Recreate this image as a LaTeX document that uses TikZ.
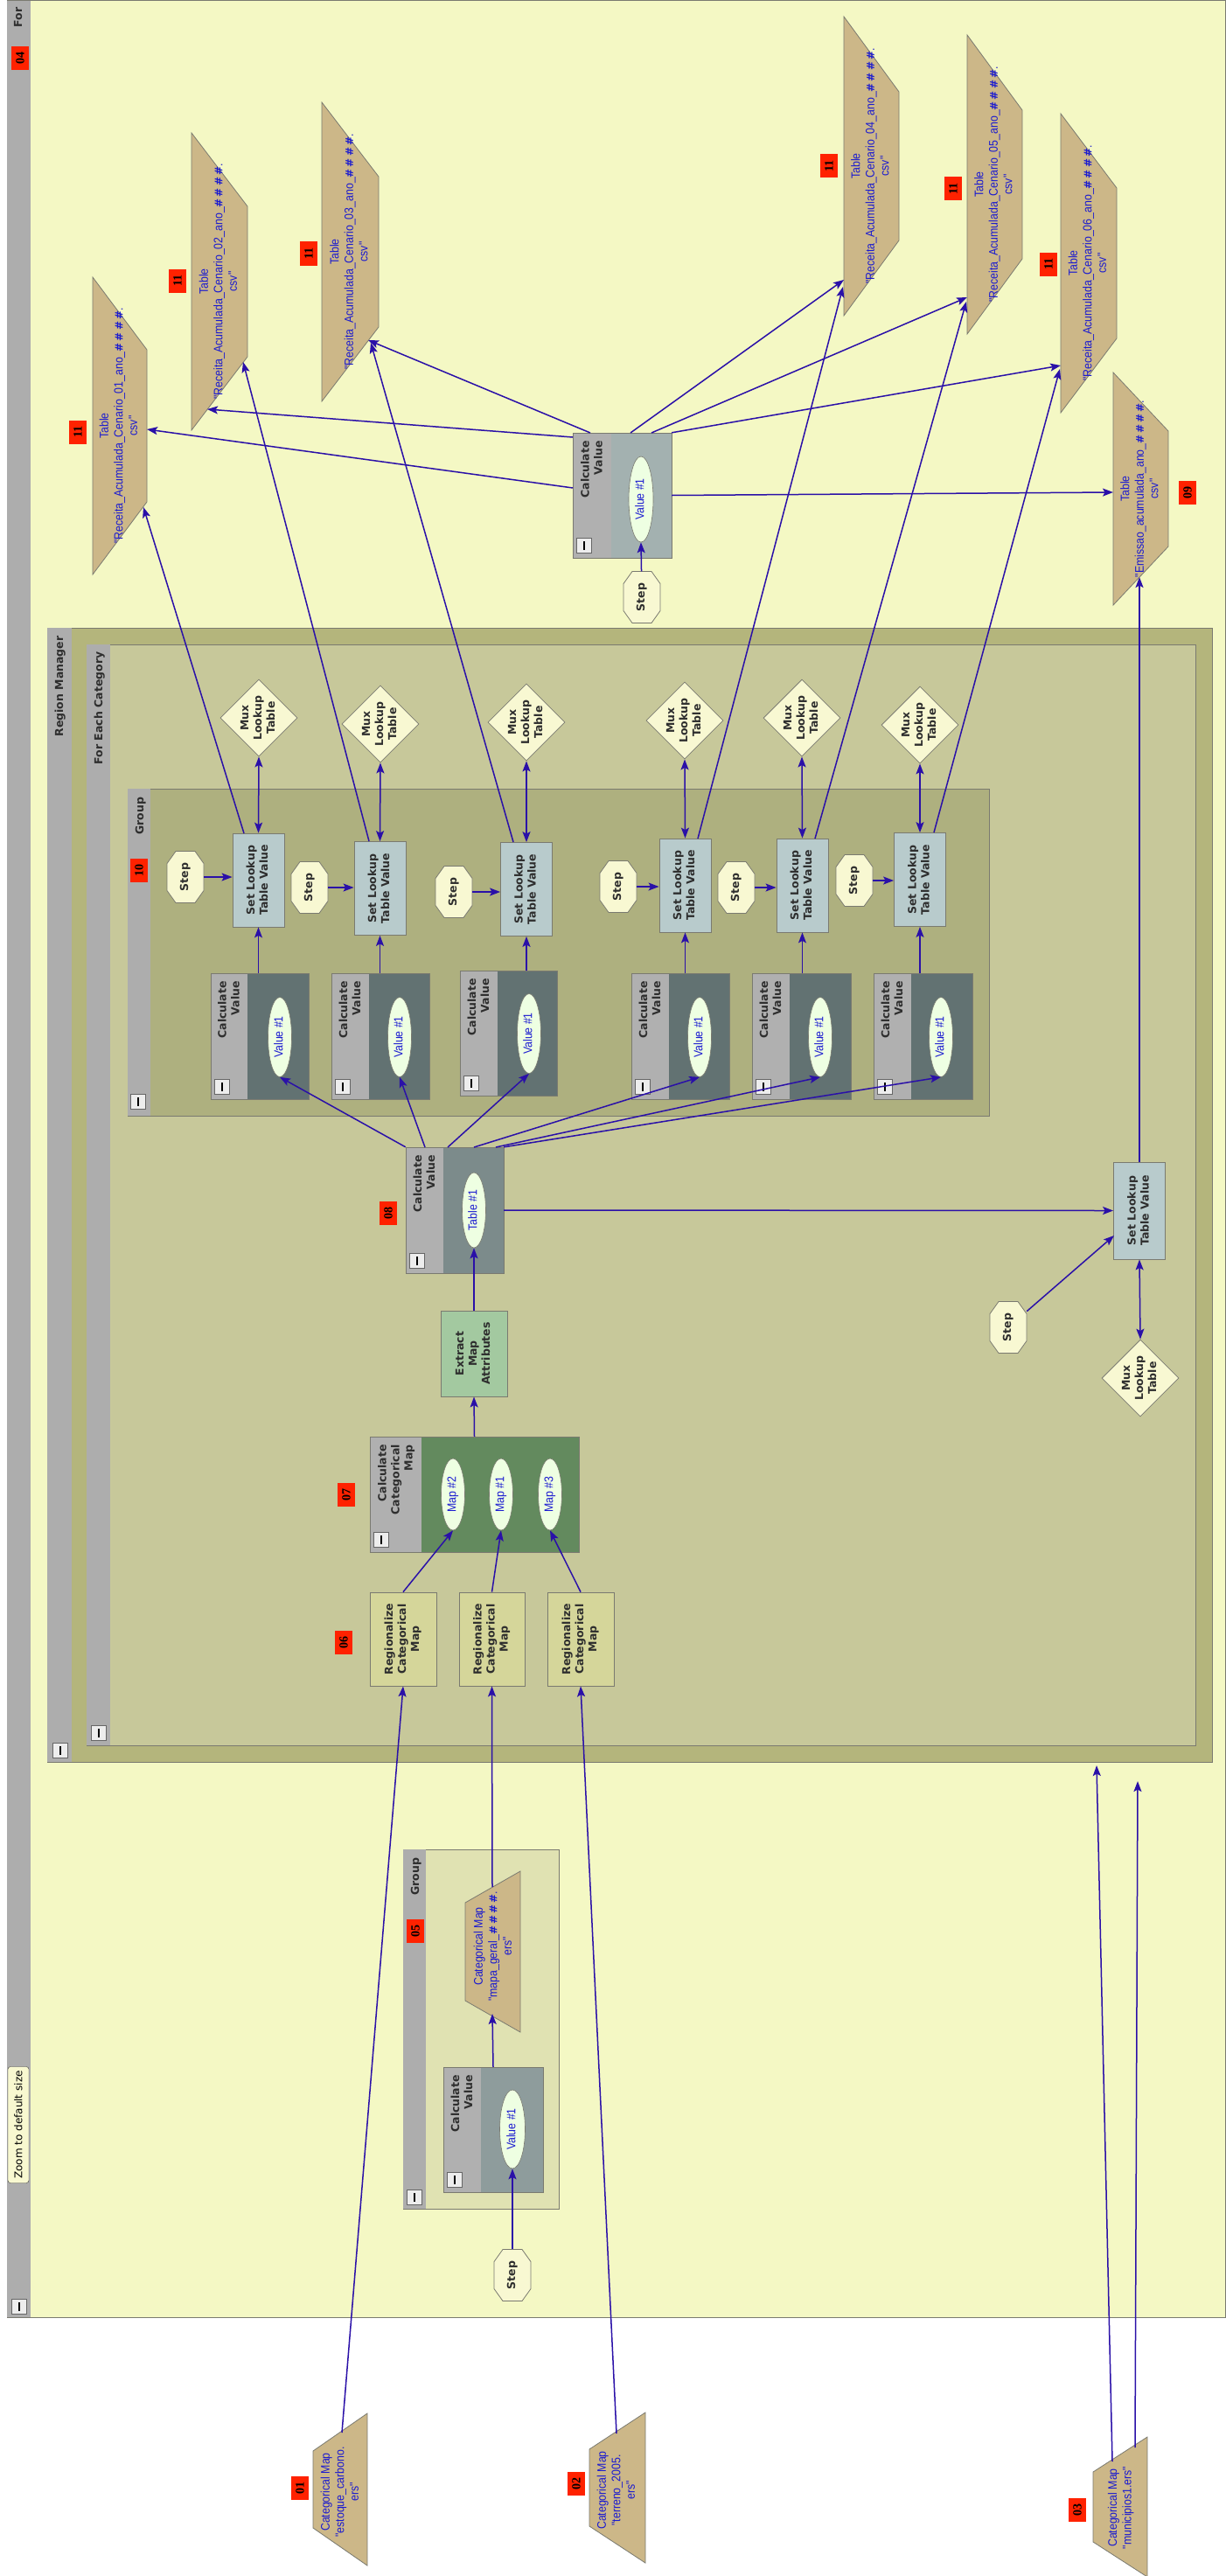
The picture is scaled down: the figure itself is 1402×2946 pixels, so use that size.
\documentclass[tikz,border=0pt]{standalone}
\usepackage{fontspec}
\setmainfont{DejaVu Sans}
\newfontfamily\bluefont[FakeStretch=0.88]{Liberation Sans}
\newfontfamily\hashfont{DejaVu Sans}
\newfontfamily\redfont{Liberation Serif}
\usetikzlibrary{shapes.geometric,arrows.meta}
\definecolor{bgy}{HTML}{F4F8C4}
\definecolor{barc}{HTML}{ADADAD}
\definecolor{rmc}{HTML}{B4B57C}
\definecolor{fecc}{HTML}{C7C89A}
\definecolor{grpc}{HTML}{AEB07F}
\definecolor{g5c}{HTML}{E0E2B2}
\definecolor{outc}{HTML}{7A7A70}
\definecolor{trapc}{HTML}{CCB788}
\definecolor{sltvc}{HTML}{B8CBCC}
\definecolor{creamc}{HTML}{F8F8D2}
\definecolor{ellc}{HTML}{EEFFE2}
\definecolor{exc}{HTML}{A3C9A0}
\definecolor{ccmc}{HTML}{638A5E}
\definecolor{regc}{HTML}{D5D69A}
\definecolor{cvtc}{HTML}{A3B1B0}
\definecolor{cgc}{HTML}{627272}
\definecolor{cv8c}{HTML}{7C8B8B}
\definecolor{cg5c}{HTML}{8E9C9C}
\definecolor{hdrc}{HTML}{B0B0B0}
\definecolor{arrc}{HTML}{2A10A8}
\definecolor{bluec}{HTML}{1A1AD0}
\definecolor{redc}{HTML}{FF2200}
\definecolor{txtc}{HTML}{2E2E2E}
\definecolor{btnc}{HTML}{EDEDED}
\definecolor{btnb}{HTML}{666666}
\definecolor{tipc}{HTML}{F8F8D0}
\newcommand\rt[1]{\rotatebox{90}{\begin{tabular}{@{}c@{}}#1\end{tabular}}}
\newcommand\rtr[1]{\rotatebox{90}{\begin{tabular}{@{}r@{}}#1\end{tabular}}}
\newcommand\hh{{\hashfont\bfseries\fontsize{12}{16.5}\selectfont\#\,\#\,\#\,\#}}
\tikzset{
  lbl/.style={font=\fontsize{12.5}{15}\selectfont\bfseries, text=txtc, inner sep=0pt},
  bluetxt/.style={font=\bluefont\fontsize{14}{16.5}\selectfont, text=bluec, inner sep=0pt},
  conn/.style={draw=arrc, line width=1.5pt, -{Stealth[length=12pt,width=9pt,inset=2.5pt]}},
  dconn/.style={draw=arrc, line width=1.5pt, {Stealth[length=12pt,width=9pt,inset=2.5pt]}-{Stealth[length=12pt,width=9pt,inset=2.5pt]}},
  sltv/.style={lbl, draw=outc, line width=0.8pt, fill=sltvc, minimum width=59pt, minimum height=107pt},
  mux/.style={lbl, diamond, draw=outc, line width=0.8pt, fill=creamc, minimum width=88pt, minimum height=88pt, inner sep=-4pt},
  regbox/.style={lbl, draw=outc, line width=0.8pt, fill=regc, minimum width=76pt, minimum height=107pt},
  ell/.style={bluetxt, ellipse, draw=outc, line width=0.6pt, fill=ellc},
  redlbl/.style={fill=redc, inner sep=0pt, minimum width=20pt, minimum height=27pt, font=\redfont\bfseries\fontsize{14}{14}\selectfont, text=black},
  btnbox/.style={draw=btnb, fill=btnc, line width=0.8pt, minimum width=17pt, minimum height=17pt, inner sep=0pt},
}
\newcommand\btn[3]{%
  \node[btnbox] (#1) at ({#2},{#3}) {};
  \draw[line width=2.2pt, black] ([yshift=5pt]#1.center) -- ([yshift=-5pt]#1.center);}
\newcommand\calcbox[8]{%
  \node[draw=outc, fill=#7, inner sep=0pt, minimum width={#4-#2}, minimum height={#5-#3}] (#1) at ({(#2+#4)/2},{(#3+#5)/2}) {};
  \fill[hdrc] (#2,#3) rectangle (#6,#5);
  \draw[outc, line width=0.8pt] (#2,#3) rectangle (#4,#5);
  \node[lbl, anchor=north] (#1-h) at ({(#2+#6)/2+1},{#3+9}) {\rtr{#8}};
  \btn{#1-m}{#2+13}{#5-14}}
% trapezoid: name, x of long edge, x of short edge, centre y, half long, half short
\newcommand\trap[6]{%
  \draw[outc, line width=0.8pt, fill=trapc] (#2,{#4-#5}) -- (#3,{#4-#6}) -- (#3,{#4+#6}) -- (#2,{#4+#5}) -- cycle;
  \coordinate (#1) at ({(#2+#3)/2},#4);}
\newcommand\stepnode[3]{%
  \draw[outc, line width=0.8pt, fill=creamc] ({#2-21},{#3-15.5}) -- ({#2-11},{#3-29.5}) -- ({#2+11},{#3-29.5}) -- ({#2+21},{#3-15.5}) -- ({#2+21},{#3+15.5}) -- ({#2+11},{#3+29.5}) -- ({#2-11},{#3+29.5}) -- ({#2-21},{#3+15.5}) -- cycle;
  \node[lbl, minimum width=42pt, minimum height=59pt] (#1) at (#2,#3) {\rt{Step}};}
\begin{document}
\begin{tikzpicture}[x=1pt,y=-1pt]
\useasboundingbox (0,0) rectangle (1402,2946);
\fill[white] (0,0) rectangle (1402,2946);
% ---------- For container
\draw[outc, line width=0.8pt, fill=bgy] (8,0.5) rectangle (1401.5,2650);
\fill[barc] (8.4,0.9) rectangle (35,2649.6);
\node[lbl] (forlbl) at (22,20) {\rt{For}};
\node[redlbl] (L04) at (23,67) {\rotatebox{90}{04}};
\node[draw=black!75, fill=tipc, rounded corners=3pt, minimum width=24pt, minimum height=133pt, inner sep=0pt, font=\fontsize{12}{12}\selectfont, text=black] (zoomtip) at (21,2430) {\rotatebox{90}{Zoom to default size}};
\btn{formin}{22}{2638}
% ---------- Region Manager
\draw[outc, line width=0.8pt, fill=rmc] (54,718) rectangle (1386,2015);
\fill[barc] (54.4,718.4) rectangle (82,2014.6);
\node[lbl] (rmlbl) at (69,785) {\rt{Region Manager}};
\btn{rmmin}{69}{2002}
% ---------- For Each Category
\draw[outc, line width=0.8pt, fill=fecc] (99,737) rectangle (1367,1996);
\fill[barc] (99.4,737.4) rectangle (126,1995.6);
\node[lbl] (feclbl) at (114,810) {\rt{For Each Category}};
\btn{fecmin}{113}{1982}
% ---------- Group 10
\draw[outc, line width=0.8pt, fill=grpc] (146,902) rectangle (1131,1276);
\fill[barc] (146.4,902.4) rectangle (172,1275.6);
\node[lbl] (g10lbl) at (161,933) {\rt{Group}};
\node[redlbl] (L10) at (159,995) {\rotatebox{90}{10}};
\btn{g10min}{158}{1260}
% ---------- Group 05
\draw[outc, line width=0.8pt, fill=g5c] (461,2115) rectangle (639,2526);
\fill[barc] (461.4,2115.4) rectangle (487,2525.6);
\node[lbl] (g05lbl) at (476,2146) {\rt{Group}};
\node[redlbl] (L05) at (475,2208) {\rotatebox{90}{05}};
\btn{g05min}{474}{2513}
% ---------- Output tables
\trap{T1}{106}{168}{487}{170}{87}
\trap{T2}{219}{283}{322}{170}{86}
\trap{T3}{368}{433}{288}{171}{86}
\trap{T4}{965}{1028}{190}{171}{85}
\trap{T5}{1106}{1169}{211}{171}{85}
\trap{T6}{1213}{1277}{301}{171}{86}
\trap{T9}{1273}{1336}{559}{133}{66}
\node[bluetxt] (T1t) at (T1) {\rt{Table\\"Receita\_Acumulada\_Cenario\_01\_ano\_\hh.\\csv"}};
\node[bluetxt] (T2t) at (T2) {\rt{Table\\"Receita\_Acumulada\_Cenario\_02\_ano\_\hh.\\csv"}};
\node[bluetxt] (T3t) at (T3) {\rt{Table\\"Receita\_Acumulada\_Cenario\_03\_ano\_\hh.\\csv"}};
\node[bluetxt] (T4t) at (T4) {\rt{Table\\"Receita\_Acumulada\_Cenario\_04\_ano\_\hh.\\csv"}};
\node[bluetxt] (T5t) at (T5) {\rt{Table\\"Receita\_Acumulada\_Cenario\_05\_ano\_\hh.\\csv"}};
\node[bluetxt] (T6t) at (T6) {\rt{Table\\"Receita\_Acumulada\_Cenario\_06\_ano\_\hh.\\csv"}};
\node[bluetxt] (T9t) at (T9) {\rt{Table\\"Emissao\_acumulada\_ano\_\hh.\\csv"}};
\node[redlbl] (L11a) at (89,494) {\rotatebox{90}{11}};
\node[redlbl] (L11b) at (203,321) {\rotatebox{90}{11}};
\node[redlbl] (L11c) at (353,290) {\rotatebox{90}{11}};
\node[redlbl] (L11d) at (948,190) {\rotatebox{90}{11}};
\node[redlbl] (L11e) at (1090,216) {\rotatebox{90}{11}};
\node[redlbl] (L11f) at (1199,302) {\rotatebox{90}{11}};
\node[redlbl] (L09) at (1358,563) {\rotatebox{90}{09}};
% ---------- top calculate value
\calcbox{CVT}{655}{495}{768}{638}{699}{cvtc}{Calculate\\Value}
\node[ell, minimum width=28pt, minimum height=98pt] (CVTe) at (733,571) {\rt{Value \#1}};
\stepnode{StT}{734}{683}
% ---------- group 10 columns
\calcbox{C1}{241}{1113}{353}{1257}{283}{cgc}{Calculate\\Value}
\calcbox{C2}{379}{1113}{491}{1257}{422}{cgc}{Calculate\\Value}
\calcbox{C3}{526}{1110}{637}{1253}{569}{cgc}{Calculate\\Value}
\calcbox{C4}{722}{1113}{834}{1257}{765}{cgc}{Calculate\\Value}
\calcbox{C5}{860}{1113}{973}{1257}{903}{cgc}{Calculate\\Value}
\calcbox{C6}{999}{1113}{1112}{1257}{1042}{cgc}{Calculate\\Value}
\node[ell, minimum width=27pt, minimum height=91pt] (C1e) at (320,1186) {\rt{Value \#1}};
\node[ell, minimum width=27pt, minimum height=91pt] (C2e) at (457,1186) {\rt{Value \#1}};
\node[ell, minimum width=27pt, minimum height=91pt] (C3e) at (605,1182) {\rt{Value \#1}};
\node[ell, minimum width=27pt, minimum height=91pt] (C4e) at (800,1186) {\rt{Value \#1}};
\node[ell, minimum width=27pt, minimum height=91pt] (C5e) at (938,1186) {\rt{Value \#1}};
\node[ell, minimum width=27pt, minimum height=91pt] (C6e) at (1076,1186) {\rt{Value \#1}};
\node[sltv] (S1) at (295.5,1006.5) {\rt{Set Lookup\\Table Value}};
\node[sltv] (S2) at (434.5,1016) {\rt{Set Lookup\\Table Value}};
\node[sltv] (S3) at (602,1017) {\rt{Set Lookup\\Table Value}};
\node[sltv] (S4) at (783.5,1012.5) {\rt{Set Lookup\\Table Value}};
\node[sltv] (S5) at (917.5,1012.5) {\rt{Set Lookup\\Table Value}};
\node[sltv] (S6) at (1052,1006) {\rt{Set Lookup\\Table Value}};
\node[mux] (M1) at (296,821) {\rt{Mux\\Lookup\\Table}};
\node[mux] (M2) at (435,828) {\rt{Mux\\Lookup\\Table}};
\node[mux] (M3) at (602,826) {\rt{Mux\\Lookup\\Table}};
\node[mux] (M4) at (783,824) {\rt{Mux\\Lookup\\Table}};
\node[mux] (M5) at (917,821) {\rt{Mux\\Lookup\\Table}};
\node[mux] (M6) at (1052,829) {\rt{Mux\\Lookup\\Table}};
\stepnode{St1}{212}{1003}
\stepnode{St2}{354}{1015}
\stepnode{St3}{519}{1020}
\stepnode{St4}{707}{1014}
\stepnode{St5}{842}{1015}
\stepnode{St6}{977}{1007}
% ---------- main chain
\calcbox{CV8}{464}{1312}{576}{1456}{507}{cv8c}{Calculate\\Value}
\node[ell, minimum width=27pt, minimum height=86pt] (CV8e) at (542,1384) {\rt{Table \#1}};
\node[redlbl] (L08) at (444,1387) {\rotatebox{90}{08}};
\node[lbl, draw=outc, line width=0.8pt, fill=exc, minimum width=76pt, minimum height=98pt] (EX) at (542,1548) {\rt{Extract\\Map\\Attributes}};
\calcbox{CCM}{423}{1643}{662}{1775}{482}{ccmc}{Calculate\\Categorical\\Map}
\node[ell, minimum width=27pt, minimum height=82pt] (CCMe2) at (518,1709) {\rt{Map \#2}};
\node[ell, minimum width=27pt, minimum height=82pt] (CCMe1) at (573,1709) {\rt{Map \#1}};
\node[ell, minimum width=27pt, minimum height=82pt] (CCMe3) at (629,1709) {\rt{Map \#3}};
\node[redlbl] (L07) at (396,1709) {\rotatebox{90}{07}};
\node[regbox] (R1) at (461,1874.5) {\rt{Regionalize\\Categorical\\Map}};
\node[regbox, minimum width=75pt] (R2) at (562.5,1874.5) {\rt{Regionalize\\Categorical\\Map}};
\node[regbox] (R3) at (664,1874.5) {\rt{Regionalize\\Categorical\\Map}};
\node[redlbl] (L06) at (393,1878) {\rotatebox{90}{06}};
\node[sltv, minimum height=111pt] (S7) at (1303,1384.5) {\rt{Set Lookup\\Table Value}};
\node[mux] (M7) at (1304,1576) {\rt{Mux\\Lookup\\Table}};
\stepnode{St7}{1153}{1518}
% ---------- group 05 content
\trap{MG}{595}{532}{2232}{92}{56}
\node[bluetxt] (MGt) at (565,2226) {\rt{Categorical Map\\"mapa\_geral\_\hh.\\ers"}};
\calcbox{CG5}{507}{2364}{621}{2507}{550}{cg5c}{Calculate\\Value}
\node[ell, minimum width=29pt, minimum height=90pt] (CG5e) at (586,2435) {\rt{Value \#1}};
\stepnode{StG}{586}{2602}
% ---------- external inputs
\trap{CM1}{420}{358}{2847}{87}{44}
\trap{CM2}{738}{674}{2845}{86}{44}
\trap{CM3}{1312}{1250}{2867}{80}{40}
\node[bluetxt] (CM1t) at (390,2850) {\rt{Categorical Map\\"estoque\_carbono.\\ers"}};
\node[bluetxt] (CM2t) at (706,2848) {\rt{Categorical Map\\"terreno\_2005.\\ers"}};
\node[bluetxt] (CM3t) at (1282,2868) {\rt{Categorical Map\\"municipios1.ers"}};
\node[redlbl] (L01) at (343,2845) {\rotatebox{90}{01}};
\node[redlbl] (L02) at (659,2840) {\rotatebox{90}{02}};
\node[redlbl] (L03) at (1232,2870) {\rotatebox{90}{03}};
% ---------- connector end points
\coordinate (cvta) at (655,558);  \coordinate (t1a) at (168,491);
\coordinate (cvtb) at (655,500);  \coordinate (t2a) at (237,468);
\coordinate (cvtc) at (675,495);  \coordinate (t3a) at (421,389);
\coordinate (cvtd) at (721,495);  \coordinate (t4a) at (965,320);
\coordinate (cvte) at (745,495);  \coordinate (t5a) at (1106,340);
\coordinate (t6a) at (1213,418);  \coordinate (t9a) at (1273,563);
\coordinate (s1o) at (279,953);   \coordinate (t1b) at (164,580);
\coordinate (s2o) at (422,962);   \coordinate (t2b) at (278,414);
\coordinate (s3o) at (587,963);   \coordinate (t3b) at (424,392);
\coordinate (s4o) at (798,959);   \coordinate (t4b) at (964,328);
\coordinate (s5o) at (932,959);   \coordinate (t5b) at (1105,345);
\coordinate (s6o) at (1068,952);  \coordinate (t6b) at (1212,422);
\coordinate (t9b) at (1303,660);
\coordinate (c8b) at (486,1312);  \coordinate (c8c) at (512,1312);
\coordinate (c8d) at (542,1312);  \coordinate (c8e) at (567,1312);
\coordinate (s7in) at (1274,1413);
\coordinate (cm1o) at (391,2782); \coordinate (cm2o) at (705,2783);
\coordinate (mgo) at (563,2158);  \coordinate (mgi) at (563,2303);
\coordinate (cm3a) at (1272,2815); \coordinate (cm3b) at (1298,2799);
\coordinate (rmin1) at (1254,2019); \coordinate (rmin2) at (1301,2037);
% ---------- connectors
\draw[conn] (cvta) -- (t1a);
\draw[conn] (cvtb) -- (t2a);
\draw[conn] (cvtc) -- (t3a);
\draw[conn] (cvtd) -- (t4a);
\draw[conn] (cvte) -- (t5a);
\draw[conn] (CVT.north east) -- (t6a);
\draw[conn] (CVT.east) -- (t9a);
\draw[conn] (StT) -- (CVTe.south);
\draw[conn] (s1o) -- (t1b);
\draw[conn] (s2o) -- (t2b);
\draw[conn] (s3o) -- (t3b);
\draw[conn] (s4o) -- (t4b);
\draw[conn] (s5o) -- (t5b);
\draw[conn] (s6o) -- (t6b);
\draw[conn] (S7.north) -- (t9b);
\foreach \i in {1,...,6}{
  \draw[conn] (St\i.east) -- (St\i.east -| S\i.west);
  \draw[conn] (S\i.south |- C\i.north) -- (S\i.south);
  \draw[dconn] (S\i.north) -- (M\i.south);
}
\draw[conn] (CV8.north west) -- (C1e.south);
\draw[conn] (c8b) -- (C2e.south);
\draw[conn] (c8c) -- (C3e.south);
\draw[conn] (c8d) -- (C4e.south);
\draw[conn] (c8e) -- (C5e.south);
\draw[conn] (CV8.north east) -- (C6e.south);
\draw[conn] (CV8.east) -- (S7.west);
\draw[conn] (St7) -- (s7in);
\draw[dconn] (S7.south) -- (M7.north);
\draw[conn] (EX.north) -- (CV8e.south);
\draw[conn] (CCM.north) -- (EX.south);
\draw[conn] (R1.north) -- (CCMe2.south);
\draw[conn] (R2.north) -- (CCMe1.south);
\draw[conn] (R3.north) -- (CCMe3.south);
\draw[conn] (cm1o) -- (R1.south);
\draw[conn] (mgo) -- (R2.south);
\draw[conn] (cm2o) -- (R3.south);
\draw[conn] (CG5.north) -- (mgi);
\draw[conn] (StG) -- (CG5e.south);
\draw[conn] (cm3a) -- (rmin1);
\draw[conn] (cm3b) -- (rmin2);
\end{tikzpicture}
\end{document}
